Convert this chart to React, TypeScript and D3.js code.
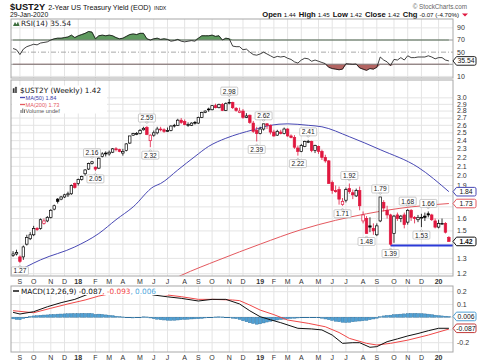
import React from "react";
import * as d3 from "d3";

// weekly bars, the first one is the week of 21-Aug-2017
const firstWeek = new Date(2017, 7, 21);

const opens = [
  1.32, 1.33, 1.31, 1.31, 1.40, 1.44, 1.47, 1.52,
  1.52, 1.56, 1.58, 1.61, 1.68, 1.77, 1.77, 1.79,
  1.81, 1.82, 1.92, 1.92, 1.96, 2.02, 2.07, 2.13,
  2.09, 2.08, 2.21, 2.25, 2.24, 2.26, 2.30, 2.29,
  2.25, 2.28, 2.37, 2.47, 2.49, 2.49, 2.54, 2.57,
  2.40, 2.47, 2.50, 2.55, 2.54, 2.53, 2.53, 2.59,
  2.60, 2.67, 2.65, 2.61, 2.60, 2.64, 2.63, 2.71,
  2.78, 2.83, 2.82, 2.88, 2.85, 2.90, 2.81, 2.92,
  2.93, 2.84, 2.78, 2.80, 2.71, 2.74, 2.63, 2.53,
  2.49, 2.55, 2.62, 2.60, 2.51, 2.47, 2.51, 2.49,
  2.55, 2.46, 2.44, 2.31, 2.27, 2.33, 2.39, 2.39,
  2.28, 2.33, 2.27, 2.20, 2.16, 1.93, 1.85, 1.86,
  1.72, 1.76, 1.87, 1.83, 1.80, 1.85, 1.58, 1.60,
  1.54, 1.52, 1.47, 1.58, 1.74, 1.67, 1.63, 1.48,
  1.63, 1.60, 1.63, 1.57, 1.67, 1.61, 1.59, 1.61,
  1.62, 1.64, 1.63, 1.58, 1.53, 1.56, 1.56, 1.45,
];
const highs = [
  1.35, 1.36, 1.32, 1.39, 1.47, 1.49, 1.54, 1.53,
  1.60, 1.60, 1.62, 1.68, 1.72, 1.78, 1.80, 1.82,
  1.84, 1.91, 1.93, 1.97, 2.00, 2.07, 2.14, 2.16,
  2.10, 2.20, 2.26, 2.27, 2.28, 2.31, 2.32, 2.30,
  2.30, 2.37, 2.46, 2.50, 2.51, 2.55, 2.58, 2.59,
  2.48, 2.53, 2.58, 2.58, 2.56, 2.57, 2.60, 2.62,
  2.69, 2.70, 2.68, 2.64, 2.64, 2.66, 2.72, 2.79,
  2.81, 2.85, 2.89, 2.91, 2.91, 2.92, 2.93, 2.98,
  2.94, 2.86, 2.85, 2.83, 2.77, 2.75, 2.66, 2.58,
  2.58, 2.62, 2.63, 2.61, 2.54, 2.54, 2.54, 2.57,
  2.56, 2.48, 2.47, 2.34, 2.36, 2.40, 2.41, 2.40,
  2.35, 2.34, 2.29, 2.23, 2.17, 1.95, 1.90, 1.89,
  1.78, 1.88, 1.92, 1.86, 1.87, 1.89, 1.66, 1.62,
  1.61, 1.56, 1.56, 1.79, 1.76, 1.71, 1.64, 1.63,
  1.65, 1.63, 1.65, 1.68, 1.68, 1.62, 1.63, 1.64,
  1.65, 1.66, 1.64, 1.60, 1.59, 1.60, 1.57, 1.46,
];
const lows = [
  1.31, 1.32, 1.27, 1.29, 1.39, 1.43, 1.46, 1.50,
  1.51, 1.55, 1.57, 1.60, 1.67, 1.73, 1.76, 1.78,
  1.79, 1.81, 1.87, 1.90, 1.95, 2.00, 2.06, 2.12,
  2.05, 2.07, 2.20, 2.21, 2.22, 2.25, 2.27, 2.26,
  2.22, 2.27, 2.36, 2.46, 2.47, 2.48, 2.53, 2.47,
  2.32, 2.45, 2.48, 2.52, 2.50, 2.51, 2.52, 2.57,
  2.59, 2.62, 2.60, 2.58, 2.59, 2.61, 2.62, 2.70,
  2.77, 2.79, 2.81, 2.84, 2.84, 2.80, 2.80, 2.90,
  2.83, 2.79, 2.77, 2.69, 2.70, 2.62, 2.50, 2.39,
  2.48, 2.53, 2.55, 2.48, 2.45, 2.46, 2.48, 2.48,
  2.45, 2.43, 2.30, 2.22, 2.26, 2.32, 2.37, 2.26,
  2.25, 2.24, 2.17, 2.14, 1.92, 1.82, 1.83, 1.72,
  1.71, 1.74, 1.82, 1.77, 1.79, 1.67, 1.56, 1.48,
  1.49, 1.47, 1.46, 1.57, 1.66, 1.60, 1.39, 1.41,
  1.58, 1.57, 1.52, 1.55, 1.58, 1.56, 1.57, 1.53,
  1.58, 1.61, 1.58, 1.52, 1.52, 1.55, 1.48, 1.42,
];
const closes = [
  1.33, 1.34, 1.28, 1.38, 1.45, 1.47, 1.52, 1.51,
  1.59, 1.58, 1.61, 1.67, 1.71, 1.75, 1.79, 1.81,
  1.82, 1.90, 1.88, 1.96, 1.99, 2.06, 2.13, 2.15,
  2.07, 2.19, 2.24, 2.24, 2.26, 2.30, 2.29, 2.27,
  2.27, 2.36, 2.46, 2.49, 2.49, 2.53, 2.56, 2.48,
  2.47, 2.50, 2.55, 2.54, 2.52, 2.53, 2.59, 2.60,
  2.67, 2.64, 2.61, 2.61, 2.63, 2.63, 2.71, 2.78,
  2.80, 2.82, 2.88, 2.85, 2.90, 2.81, 2.91, 2.93,
  2.85, 2.81, 2.80, 2.71, 2.73, 2.64, 2.52, 2.49,
  2.55, 2.62, 2.60, 2.51, 2.46, 2.52, 2.49, 2.55,
  2.46, 2.44, 2.32, 2.27, 2.34, 2.39, 2.39, 2.28,
  2.34, 2.27, 2.20, 2.16, 1.92, 1.85, 1.84, 1.77,
  1.75, 1.86, 1.84, 1.81, 1.85, 1.71, 1.63, 1.48,
  1.53, 1.50, 1.54, 1.79, 1.69, 1.63, 1.40, 1.62,
  1.60, 1.62, 1.55, 1.67, 1.61, 1.60, 1.61, 1.61,
  1.61, 1.63, 1.59, 1.53, 1.56, 1.56, 1.49, 1.42,
];

// moving averages at a few weeks
const ma50Weeks = [0, 8, 18, 25, 30, 35, 41, 43, 48, 53, 57, 62, 66, 70, 75, 80, 86, 90, 98, 107, 118, 127];
const ma50Values = [1.2, 1.29, 1.38, 1.48, 1.59, 1.7, 1.89, 1.92, 2.06, 2.21, 2.33, 2.43, 2.49, 2.54, 2.6, 2.62, 2.6, 2.58, 2.45, 2.29, 2.09, 1.84];
const ma200Weeks = [45, 49, 60, 72, 84, 94, 103, 116, 127];
const ma200Values = [1.15, 1.19, 1.29, 1.4, 1.51, 1.585, 1.64, 1.7, 1.73];

// swing labels on the price panel
const annoWeeks = [2, 23, 24, 39, 40, 63, 73, 71, 83, 86, 98, 96, 107, 103, 110, 115, 119, 121];
const annoSide = ["low", "high", "low", "high", "low", "high", "high", "low", "low", "high", "high", "low", "high", "low", "low", "high", "low", "high"];
const supportWeek = 110;

const rsi = [
  56, 54, 46, 55, 59, 61, 63, 62, 65, 66,
  67, 70, 72, 73, 73, 74, 75, 78, 74, 77,
  79, 81, 84, 83, 72, 77, 78, 77, 78, 77,
  74, 72, 73, 76, 79, 80, 79, 81, 81, 72,
  70, 72, 73, 71, 72, 71, 68, 69, 71, 68,
  67, 68, 69, 68, 73, 77, 77, 77, 78, 76,
  77, 70, 73, 72, 60, 59, 59, 54, 55, 50,
  46, 45, 47, 50, 47, 44, 41, 43, 42, 43,
  40, 38, 34, 32, 37, 40, 39, 35, 37, 35,
  33, 31, 25, 23, 22, 21, 22, 31, 30.5, 30,
  30.5, 24, 22, 20, 23, 22, 25, 42, 37, 34,
  28, 38, 37, 41, 37, 44, 41, 41, 42, 42,
  42, 44, 42, 39, 41, 41, 37, 35.54,
];

const macdWeeks = [0, 2, 6, 10, 14, 18, 22, 26, 30, 34, 38, 41, 45, 49, 54, 58, 62, 66, 69, 72, 75, 78, 83, 87, 90, 93, 96, 99, 101, 104, 106, 109, 112, 115, 118, 121, 124, 127];
const macdValues = [0.038, 0.025, 0.043, 0.082, 0.114, 0.14, 0.182, 0.198, 0.205, 0.2, 0.192, 0.174, 0.16, 0.148, 0.127, 0.14, 0.14, 0.104, 0.05, 0.004, -0.02, -0.043, -0.087, -0.092, -0.1, -0.14, -0.205, -0.2, -0.2, -0.236, -0.231, -0.192, -0.17, -0.147, -0.128, -0.106, -0.087, -0.087];
const signalWeeks = [0, 6, 11, 16, 21, 25, 28, 33, 38, 41, 45, 49, 54, 58, 64, 66, 69, 72, 76, 80, 86, 91, 95, 98, 103, 106, 110, 115, 121, 127];
const signalValues = [0.051, 0.035, 0.07, 0.104, 0.135, 0.166, 0.182, 0.196, 0.196, 0.187, 0.174, 0.161, 0.14, 0.14, 0.135, 0.13, 0.095, 0.056, 0.02, -0.022, -0.048, -0.075, -0.12, -0.166, -0.205, -0.218, -0.205, -0.18, -0.14, -0.093];
const hist = [
  -0.013, -0.018, -0.02, -0.01, 0.0, 0.006, 0.01, 0.012,
  0.015, 0.017, 0.018, 0.02, 0.022, 0.024, 0.025, 0.026,
  0.027, 0.028, 0.028, 0.029, 0.03, 0.03, 0.03, 0.028,
  0.022, 0.024, 0.022, 0.018, 0.015, 0.012, 0.008, 0.005,
  0.002, 0.0, -0.004, -0.006, -0.004, 0.0, 0.003, 0.002,
  -0.006, -0.012, -0.016, -0.02, -0.022, -0.024, -0.025, -0.024,
  -0.022, -0.02, -0.018, -0.016, -0.014, -0.013, -0.012, -0.01,
  -0.006, -0.002, 0.0, 0.002, 0.003, 0.002, 0.0, -0.004,
  -0.008, -0.012, -0.018, -0.028, -0.036, -0.044, -0.05, -0.055,
  -0.052, -0.045, -0.038, -0.032, -0.028, -0.022, -0.018, -0.015,
  -0.012, -0.01, -0.008, -0.006, -0.004, -0.002, 0.0, 0.0,
  -0.002, -0.004, -0.008, -0.014, -0.02, -0.026, -0.032, -0.036,
  -0.04, -0.042, -0.04, -0.036, -0.032, -0.03, -0.028, -0.025,
  -0.02, -0.014, -0.008, 0.004, 0.01, 0.014, 0.016, 0.02,
  0.022, 0.024, 0.026, 0.028, 0.03, 0.03, 0.029, 0.028,
  0.026, 0.024, 0.02, 0.016, 0.012, 0.01, 0.008, 0.006,
];

const priceTicks = d3.range(12, 31).map((v) => v / 10);
const rsiTicks = [90, 70, 50, 30, 10];
const macdTicks = [0.2, 0.1, 0, -0.1, -0.2];
const quoteLabels = ["Open", "High", "Low", "Close", "Chg"];
const quoteValues = ["1.44", "1.45", "1.42", "1.42", "-0.07 (-4.70%)"];

const RED = "#e0173f";
const SANS = "Liberation Sans, Arial, sans-serif";
const LEG = "DejaVu Sans, Verdana, sans-serif";

const Tag = ({ x, y, text, stroke, bold }) => (
  <g transform={`translate(${x},${y})`}>
    <path d="M0,0 L3.5,-4.3 H21.5 Q23,-4.3 23,-2.8 V2.8 Q23,4.3 21.5,4.3 H3.5 Z" fill="#fff" stroke={stroke} strokeWidth={1} />
    <text x={13} y={2.4} textAnchor="middle" fontSize={6.8} fontFamily={SANS} fontWeight={bold ? "bold" : "normal"} fill="#111">
      {text}
    </text>
  </g>
);

// tick labels that sit under a value tag are not drawn
const freeOf = (tags, pos, gap) => tags.every((t) => Math.abs(t - pos) > gap);

export default function App() {
  const left = 11;
  const right = 453;
  const rsiTop = 19, rsiBottom = 78;
  const mainTop = 80, mainBottom = 276;
  const macdTop = 286, macdBottom = 352;

  const x = d3.scaleLinear().domain([-0.6, 128.2]).range([left, right]);
  const y = d3.scaleLog().domain([1.186, 3.292]).range([mainBottom, mainTop]);
  const yRsi = d3.scaleLinear().domain([0, 100]).range([82.5, 21.8]);
  const yMacd = d3.scaleLinear().domain([-0.2, 0.2]).range([342.7, 291.7]);

  const weekDate = (i) => d3.timeDay.offset(firstWeek, i * 7);
  const monthTicks = d3.range(1, closes.length).filter((i) => weekDate(i).getMonth() !== weekDate(i - 1).getMonth());
  const monthLabel = (i) => {
    const d = weekDate(i);
    return d.getMonth() === 0 ? d3.timeFormat("%y")(d) : d3.timeFormat("%b")(d)[0];
  };

  const smooth = d3.line().x((d) => x(d[0])).y((d) => y(d[1])).curve(d3.curveMonotoneX);
  const ma50Path = smooth(ma50Weeks.map((w, k) => [w, ma50Values[k]]));
  const ma200Path = smooth(ma200Weeks.map((w, k) => [w, ma200Values[k]]));

  const rsiIdx = d3.range(rsi.length);
  const rsiPath = d3.line().x((i) => x(i)).y((i) => yRsi(rsi[i]))(rsiIdx);
  const rsiHigh = d3.area().x((i) => x(i)).y0(yRsi(70)).y1((i) => yRsi(Math.max(rsi[i], 70)))(rsiIdx);
  const rsiLow = d3.area().x((i) => x(i)).y0(yRsi(30)).y1((i) => yRsi(Math.min(rsi[i], 30)))(rsiIdx);

  const macdLine = d3.line().x((d) => x(d[0])).y((d) => yMacd(d[1]));
  const macdPath = macdLine(macdWeeks.map((w, k) => [w, macdValues[k]]));
  const signalPath = macdLine(signalWeeks.map((w, k) => [w, signalValues[k]]));

  const rsiTagY = yRsi(rsi[rsi.length - 1]);
  const priceTagYs = [y(ma50Values[ma50Values.length - 1]), y(ma200Values[ma200Values.length - 1]), y(closes[closes.length - 1])];
  const macdTagYs = [yMacd(hist[hist.length - 1]), yMacd(macdValues[macdValues.length - 1])];

  const bw = 2.5;

  const grid = (top, bottom) =>
    monthTicks.map((i) => <line key={"g" + i} x1={x(i)} x2={x(i)} y1={top} y2={bottom} stroke="#e4e4e4" strokeWidth={1} />);

  const monthRow = (yy) =>
    monthTicks.map((i) => {
      const yr = weekDate(i).getMonth() === 0;
      return (
        <text key={"m" + i} x={x(i)} y={yy} textAnchor="middle" fontSize={7} fontFamily={SANS} fontWeight={yr ? "bold" : "normal"} fill="#333">
          {monthLabel(i)}
        </text>
      );
    });

  return (
    <svg width={480} height={363} style={{ position: "absolute", left: 0, top: 0, background: "#fff" }}>
      <defs>
        <clipPath id="cMain"><rect x={left} y={mainTop} width={right - left} height={mainBottom - mainTop} /></clipPath>
        <clipPath id="cRsi"><rect x={left} y={rsiTop} width={right - left} height={rsiBottom - rsiTop} /></clipPath>
        <clipPath id="cMacd"><rect x={left} y={macdTop} width={right - left} height={macdBottom - macdTop} /></clipPath>
      </defs>

      {/* header */}
      <text x={10} y={9.5} fontFamily={SANS} fill="#111">
        <tspan fontSize={9.3} fontWeight="bold">$UST2Y</tspan>
        <tspan fontSize={7.2} dx={3}>2-Year US Treasury Yield (EOD)</tspan>
        <tspan fontSize={5.2} dx={3}>INDX</tspan>
      </text>
      <text x={10} y={17} fontFamily={SANS} fontSize={6.8} fill="#111">29-Jan-2020</text>
      <text x={467} y={9} textAnchor="end" fontFamily={SANS} fontSize={6.3} fill="#666">© StockCharts.com</text>
      <text x={459} y={17} textAnchor="end" fontFamily={SANS} fill="#111">
        {quoteLabels.map((l, k) => (
          <React.Fragment key={l}>
            <tspan fontSize={7.6} fontWeight="bold" dx={k ? 3 : 0}>{l}</tspan>
            <tspan fontSize={6.2} dx={2}>{quoteValues[k]}</tspan>
          </React.Fragment>
        ))}
      </text>
      <path d="M462,13.5 L468,13.5 L465,16.5 Z" fill={RED} />

      {/* RSI panel */}
      <rect x={left} y={rsiTop} width={right - left} height={rsiBottom - rsiTop} fill="#fff" />
      {grid(rsiTop, rsiBottom)}
      {[90, 10].map((v) => <line key={v} x1={left} x2={right} y1={yRsi(v)} y2={yRsi(v)} stroke="#e4e4e4" />)}
      <g clipPath="url(#cRsi)">
        <path d={rsiHigh} fill="#5f9a5f" stroke="#3d6e3d" strokeWidth={0.5} />
        <path d={rsiLow} fill="#b26462" stroke="#7a3a3a" strokeWidth={0.5} />
        <line x1={left} x2={right} y1={yRsi(70)} y2={yRsi(70)} stroke="#8a8a8a" strokeWidth={0.9} />
        <line x1={left} x2={right} y1={yRsi(30)} y2={yRsi(30)} stroke="#8a8a8a" strokeWidth={0.9} />
        <line x1={left} x2={right} y1={yRsi(50)} y2={yRsi(50)} stroke="#a0a0a0" strokeWidth={0.9} strokeDasharray="5,2,1,2" />
        <path d={rsiPath} fill="none" stroke="#111" strokeWidth={0.8} />
      </g>
      <rect x={left} y={rsiTop} width={right - left} height={rsiBottom - rsiTop} fill="none" stroke="#a8a8a8" />
      {rsiTicks.filter((v) => freeOf([rsiTagY], yRsi(v), 6)).map((v) => (
        <text key={v} x={457} y={yRsi(v) + 2.4} fontSize={7} fontFamily={SANS} fill="#333">{v}</text>
      ))}
      <Tag x={right} y={rsiTagY} text="35.54" stroke="#222" />
      <path d="M13,26 L15,22 L16.5,24.5 L18,21.5 L19.5,26 Z" fill="#3d6e3d" />
      <text x={21} y={26} fontSize={7.3} fontFamily={LEG} fill="#222">RSI(14) 35.54</text>

      {/* price panel */}
      <rect x={left} y={mainTop} width={right - left} height={mainBottom - mainTop} fill="#fff" />
      {grid(mainTop, mainBottom)}
      {priceTicks.map((v) => (
        <line key={v} x1={left} x2={right} y1={y(v)} y2={y(v)} stroke="#e4e4e4" />
      ))}
      <g clipPath="url(#cMain)">
        <path d={ma200Path} fill="none" stroke="#e4595f" strokeWidth={1} />
        <path d={ma50Path} fill="none" stroke="#4848b4" strokeWidth={1} />
        <line x1={x(supportWeek)} x2={right} y1={y(lows[supportWeek])} y2={y(lows[supportWeek])} stroke="#2b3ad8" strokeWidth={2} />
        {closes.map((c, i) => {
          const o = opens[i];
          const prev = i > 0 ? closes[i - 1] : o;
          const col = c >= prev ? "#000" : RED;
          const filled = c < o;
          const top = y(Math.max(o, c));
          const h = Math.max(0.8, y(Math.min(o, c)) - top);
          return (
            <g key={i}>
              <line x1={x(i)} x2={x(i)} y1={y(highs[i])} y2={y(lows[i])} stroke={col} strokeWidth={0.8} />
              <rect x={x(i) - bw / 2} y={top} width={bw} height={h} fill={filled ? col : "#fff"} stroke={col} strokeWidth={0.7} />
            </g>
          );
        })}
        {annoWeeks.map((w, k) => {
          const hi = annoSide[k] === "high";
          const v = hi ? highs[w] : lows[w];
          const cx = x(w);
          const cy = hi ? y(v) - 8 : y(v) + 8;
          const tip = hi ? `M${cx - 1.5},${cy + 4} L${cx},${cy + 5.6} L${cx + 1.5},${cy + 4} Z` : `M${cx - 1.5},${cy - 4} L${cx},${cy - 5.6} L${cx + 1.5},${cy - 4} Z`;
          return (
            <g key={"a" + k}>
              <rect x={cx - 8.5} y={cy - 4} width={17} height={8} rx={1} fill="#fff" stroke="#a9a9a9" strokeWidth={0.6} />
              <path d={tip} fill="#fff" stroke="#a9a9a9" strokeWidth={0.6} />
              <text x={cx} y={cy + 2.4} textAnchor="middle" fontSize={6.6} fontFamily={SANS} fill="#222">{v.toFixed(2)}</text>
            </g>
          );
        })}
      </g>
      <rect x={left} y={mainTop} width={right - left} height={mainBottom - mainTop} fill="none" stroke="#a8a8a8" />
      {priceTicks.filter((v) => freeOf(priceTagYs, y(v), 4.5)).map((v) => (
        <text key={v} x={457} y={y(v) + 2.4} fontSize={7} fontFamily={SANS} fill="#333">{v.toFixed(1)}</text>
      ))}
      <Tag x={right} y={priceTagYs[0]} text="1.84" stroke="#4848b4" />
      <Tag x={right} y={priceTagYs[1]} text="1.73" stroke="#e4595f" />
      <Tag x={right} y={priceTagYs[2]} text="1.42" stroke="#111" bold />

      <rect x={12} y={85.5} width={95} height={28} fill="#fff" />
      <path d="M13,92.5 V88.5 H14.3 V92.5 Z M15.3,92.5 V87 H16.6 V92.5 Z M12.5,92.5 H17" fill="#333" stroke="#333" strokeWidth={0.4} />
      <text x={20} y={92.5} fontSize={7.3} fontFamily={LEG} fill="#111">$UST2Y (Weekly) 1.42</text>
      <line x1={20} x2={25} y1={97.5} y2={97.5} stroke="#4848b4" strokeWidth={1.3} />
      <text x={25.5} y={99.5} fontSize={5.6} fontFamily={SANS} fill="#3a3aa8">MA(50) 1.84</text>
      <line x1={20} x2={25} y1={104.5} y2={104.5} stroke="#e4595f" strokeWidth={1.3} />
      <text x={25.5} y={106.5} fontSize={5.6} fontFamily={SANS} fill="#e4595f">MA(200) 1.73</text>
      <path d="M20.5,113 V110 H21.5 V113 Z M22.3,113 V108.6 H23.3 V113 Z M24.1,113 V109.5 H25 V113 Z" fill="#666" />
      <text x={25.5} y={113} fontSize={5.6} fontFamily={SANS} fill="#555">Volume undef</text>

      {monthRow(284)}

      {/* MACD panel */}
      <rect x={left} y={macdTop} width={right - left} height={macdBottom - macdTop} fill="#fff" />
      {grid(macdTop, macdBottom)}
      {macdTicks.map((v) => (
        <line key={v} x1={left} x2={right} y1={yMacd(v)} y2={yMacd(v)} stroke="#e4e4e4" />
      ))}
      <g clipPath="url(#cMacd)">
        {hist.map((v, i) => (
          <rect key={i} x={x(i) - 1.5} y={Math.min(yMacd(v), yMacd(0))} width={3} height={Math.max(0.6, Math.abs(yMacd(v) - yMacd(0)))} fill="#4fa0d4" stroke="#2f6f9c" strokeWidth={0.4} />
        ))}
        <path d={signalPath} fill="none" stroke="#f04848" strokeWidth={1} />
        <path d={macdPath} fill="none" stroke="#111" strokeWidth={1} />
      </g>
      <rect x={12} y={287} width={156} height={8} fill="#fff" />
      <line x1={13} x2={19} y1={291} y2={291} stroke="#111" strokeWidth={1.5} />
      <text x={21} y={294} fontSize={7.3} fontFamily={LEG}>
        <tspan fill="#111">MACD(12,26,9) -0.087</tspan>
        <tspan fill="#f04848">, -0.093</tspan>
        <tspan fill="#4fa8dc">, 0.006</tspan>
      </text>
      <rect x={left} y={macdTop} width={right - left} height={macdBottom - macdTop} fill="none" stroke="#a8a8a8" />
      {macdTicks.filter((v) => freeOf(macdTagYs, yMacd(v), 6)).map((v) => (
        <text key={v} x={457} y={yMacd(v) + 2.4} fontSize={7} fontFamily={SANS} fill="#333">{v}</text>
      ))}
      <Tag x={right} y={macdTagYs[0]} text="0.006" stroke="#4fa0d4" />
      <Tag x={right} y={macdTagYs[1]} text="-0.087" stroke="#c23a3a" />

      {monthRow(360)}
    </svg>
  );
}
